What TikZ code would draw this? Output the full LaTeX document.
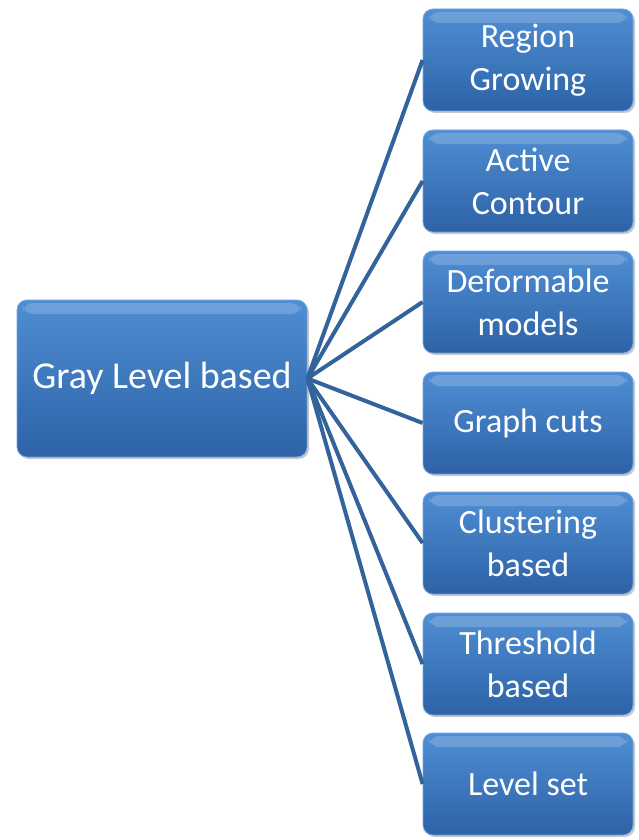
\documentclass[tikz,border=0pt]{standalone}
\usepackage{fontspec}
\setmainfont{Carlito}
\usetikzlibrary{shadows}
\definecolor{boxtop}{HTML}{4F8ED4}
\definecolor{boxbot}{HTML}{2D62A6}
\definecolor{boxedge}{HTML}{6FA6E6}
\definecolor{linkcol}{HTML}{32639A}
\tikzset{
  box/.style={rounded corners=10pt, top color=boxtop, bottom color=boxbot,
    draw=boxedge, line width=0.8pt, text=white, align=center,
    font=\fontsize{34}{43}\selectfont, inner sep=0pt,
    drop shadow={shadow xshift=2pt, shadow yshift=-2pt, fill=black!35, opacity=0.6},
    path picture={\fill[white,opacity=0.18] ([xshift=6pt,yshift=-3pt]path picture bounding box.north west) rectangle ([xshift=-6pt,yshift=-14pt]path picture bounding box.north east);}},
  sub/.style={box, minimum width=210pt, minimum height=102pt},
  link/.style={draw=linkcol, line width=4pt}
}
\begin{document}
\begin{tikzpicture}[x=1pt,y=-1pt]
\fill[white] (0,0) rectangle (638,840);
\useasboundingbox (0,0) rectangle (638,840);
\node[box, minimum width=290pt, minimum height=157pt, font=\fontsize{38}{46}\selectfont] (main) at (162,378.5) {Gray Level based};
\node[sub] (a) at (528,60) {Region\\Growing};
\node[sub] (b) at (528,181) {Active\\Contour};
\node[sub] (c) at (528,302) {Deformable\\models};
\node[sub] (d) at (528,423) {Graph cuts};
\node[sub] (e) at (528,543) {Clustering\\based};
\node[sub] (f) at (528,664) {Threshold\\based};
\node[sub] (g) at (528,784) {Level set};
\foreach \t in {a,b,c,d,e,f,g}{
  \draw[link] (main.east) -- (\t.west);
}
\end{tikzpicture}
\end{document}
